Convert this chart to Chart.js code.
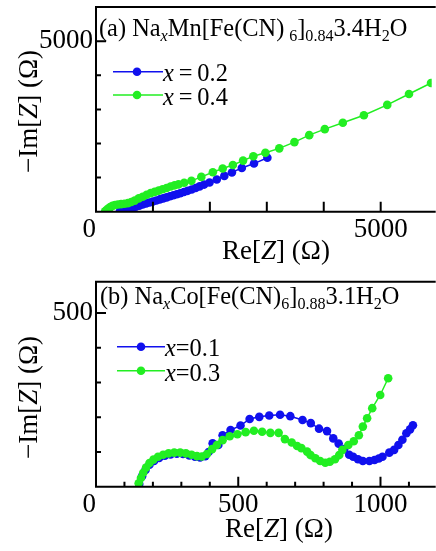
<!DOCTYPE html>
<html>
<head>
<meta charset="utf-8">
<script src="https://cdn.jsdelivr.net/npm/chart.js@4.4.0/dist/chart.umd.min.js"></script>
<style>
  html, body { margin: 0; padding: 0; background: #fff; }
  body { width: 436px; height: 551px; position: relative; overflow: hidden;
         font-family: "Liberation Serif", "Times New Roman", serif; color: #000; }
  canvas { position: absolute; left: 0; }
  .txt { position: absolute; line-height: 1; white-space: nowrap; }
  .ttl, .leg { font-size: 24.4px; }
  .ax { font-size: 27px; width: 200px; text-align: center; }
  .rot { transform: rotate(-90deg); }
  sub { font-size: 0.66em; vertical-align: baseline; position: relative; top: 0.28em; line-height: 0; }
</style>
</head>
<body>
<canvas id="chartA" width="436" height="270" style="top:0"></canvas>
<canvas id="chartB" width="436" height="281" style="top:270px"></canvas>

<div class="txt ttl" style="left:99px; top:16px">(a) Na<sub><i>x</i></sub>Mn[Fe(CN)&#8201;<sub>6</sub>]<sub>0.84</sub>3.4H<sub>2</sub>O</div>
<div class="txt leg" style="left:163px; top:61px"><i>x</i>&#8201;=&#8201;0.2</div>
<div class="txt leg" style="left:163px; top:85px"><i>x</i>&#8201;=&#8201;0.4</div>
<div class="txt ax" style="left:176px; top:237px">Re[<i>Z</i>] (Ω)</div>
<div class="txt ax rot" style="left:-72px; top:98px">−Im[<i>Z</i>] (Ω)</div>

<div class="txt ttl" style="left:100px; top:284px">(b) Na<sub><i>x</i></sub>Co[Fe(CN)<sub>6</sub>]<sub>0.88</sub>3.1H<sub>2</sub>O</div>
<div class="txt leg" style="left:165px; top:336px"><i>x</i>=0.1</div>
<div class="txt leg" style="left:165px; top:361px"><i>x</i>=0.3</div>
<div class="txt ax" style="left:179px; top:515px">Re[<i>Z</i>] (Ω)</div>
<div class="txt ax rot" style="left:-72px; top:384px">−Im[<i>Z</i>] (Ω)</div>

<script>
/* ---- (a) NaxMn[Fe(CN)6]0.84 3.4H2O ---- */
const mnX02 = [420, 470, 520, 580, 640, 700, 760, 820, 880, 940, 1000, 1060, 1120, 1180, 1240, 1300,
               1360, 1420, 1480, 1545, 1610, 1680, 1750, 1820, 1900, 1994, 2121, 2254, 2387, 2561, 2775, 3010];
const mnY02 = [10, 30, 50, 85, 115, 148, 178, 210, 240, 270, 300, 330, 360, 390, 420, 452,
               482, 512, 543, 576, 612, 652, 695, 742, 795, 857, 944, 1050, 1148, 1283, 1411, 1580];
const mnX04 = [160, 185, 215, 250, 290, 335, 385, 440, 500, 560, 620, 680, 751, 820, 890, 960, 1030,
               1100, 1170, 1240, 1310, 1380, 1449, 1549, 1676, 1850, 2052, 2225, 2404, 2583, 2763,
               2975, 3219, 3485, 3745, 4018, 4335, 4705, 5115, 5497, 5884];
const mnY04 = [15, 45, 90, 135, 170, 195, 212, 222, 232, 250, 285, 325, 390, 440, 495, 545, 581,
               619, 657, 695, 737, 773, 800, 847, 905, 1020, 1157, 1265, 1370, 1498, 1624,
               1726, 1857, 2041, 2245, 2420, 2606, 2828, 3131, 3452, 3773];
const mnTicksX = [0, 1000, 2000, 3000, 4000, 5000];
const mnTicksY = [0, 1000, 2000, 3000, 4000, 5000];
const mnTickLabelsX = [0, 5000];
const mnTickLabelsY = [5000];

/* ---- (b) NaxCo[Fe(CN)6]0.88 3.1H2O ---- */
const coX01 = [152, 162, 174, 188, 204, 222, 242, 262, 284, 306, 328, 348, 366, 384, 396, 410, 430,
               445, 473, 508, 540, 574, 609, 647, 683, 726, 755, 784, 812, 834, 853, 872, 890, 904,
               921, 938, 961, 979, 994, 1007, 1031, 1048, 1063, 1077, 1091, 1104, 1114];
const coY01 = [8, 30, 48, 63, 74, 83, 89, 93, 95, 94, 90, 86, 84, 88, 100, 125, 120,
               148, 163, 176, 195, 201, 205, 207, 203, 192, 183, 167, 160, 139, 124, 108, 92, 86,
               79, 74, 74, 77, 81, 86, 98, 106, 120, 135, 154, 165, 177];
const coX03 = [150, 158, 166, 176, 188, 202, 218, 236, 255, 275, 296, 316, 336, 355, 372, 390, 408,
               425, 445, 470, 497, 526, 555, 584, 613, 642, 664, 688, 707, 722, 742, 754, 771, 788,
               806, 822, 840, 855, 866, 887, 906, 924, 938, 953, 971, 999, 1027];
const coY03 = [10, 25, 40, 55, 68, 78, 86, 92, 96, 98, 98, 96, 92, 88, 87, 94, 108,
               120, 134, 145, 151, 157, 161, 158, 155, 155, 137, 127, 117, 111, 101, 91, 82, 74,
               69, 72, 79, 91, 106, 120, 131, 148, 173, 197, 226, 264, 312];
const coTicksX = [0, 100, 200, 300, 400, 500, 600, 700, 800, 900, 1000, 1100];
const coTicksY = [0, 100, 200, 300, 400, 500];
const coTickLabelsX = [0, 500, 1000];
const coTickLabelsY = [500];

const BLUE = "#1010ee";
const GREEN = "#22ee22";
const FONT = "'Liberation Serif', 'Times New Roman', serif";

const pts = (xs, ys) => xs.map((x, i) => ({ x, y: ys[i] }));

// frame (left/top/bottom), inward ticks and legend swatches
const frameTicks = {
  id: "frameTicks",
  afterDraw(chart, args, o) {
    const { ctx, chartArea: a, scales } = chart;
    ctx.save();
    ctx.strokeStyle = "#000";
    ctx.lineWidth = 2;
    ctx.beginPath();
    ctx.moveTo(a.right + 4, a.top);
    ctx.lineTo(a.left, a.top);
    ctx.lineTo(a.left, a.bottom);
    ctx.lineTo(a.right + 4, a.bottom);
    scales.x.ticks.forEach(t => {
      const px = scales.x.getPixelForValue(t.value);
      ctx.moveTo(px, a.bottom);
      ctx.lineTo(px, a.bottom - (t.label ? o.xMajor : o.xMinor));
    });
    scales.y.ticks.forEach(t => {
      const py = scales.y.getPixelForValue(t.value);
      ctx.moveTo(a.left, py);
      ctx.lineTo(a.left + (t.label ? o.yMajor : o.yMinor), py);
    });
    ctx.stroke();

    o.legend.forEach(l => {
      const ds = chart.data.datasets[l.ds];
      ctx.strokeStyle = ds.borderColor;
      ctx.fillStyle = ds.backgroundColor;
      ctx.lineWidth = 1.5;
      ctx.beginPath();
      ctx.moveTo(l.x1, l.y);
      ctx.lineTo(l.x2, l.y);
      ctx.stroke();
      ctx.beginPath();
      ctx.arc(l.dot, l.y, 4.3, 0, Math.PI * 2);
      ctx.fill();
    });
    ctx.restore();
  }
};

function series(xs, ys, color) {
  return {
    data: pts(xs, ys), showLine: true,
    borderColor: color, backgroundColor: color, borderWidth: 1.5,
    pointRadius: 4.3, pointBorderWidth: 0, pointHoverRadius: 4.3
  };
}

function makeChart(id, c) {
  return new Chart(document.getElementById(id), {
    type: "scatter",
    data: { datasets: c.datasets },
    options: {
      responsive: false,
      animation: false,
      layout: { padding: { top: c.top, left: 0, right: 0, bottom: 0 } },
      plugins: {
        legend: { display: false },
        tooltip: { enabled: false },
        frameTicks: c.frame
      },
      scales: {
        x: {
          type: "linear", min: 0, max: c.xMax,
          grid: { display: false, drawTicks: false }, border: { display: false },
          afterBuildTicks: s => { s.ticks = c.xTicks.map(v => ({ value: v })); },
          ticks: {
            autoSkip: false, maxRotation: 0,
            color: "#000", padding: 5, font: { family: FONT, size: 27, lineHeight: 1 },
            callback: v => c.xLabels.includes(v) ? (v === 0 ? "0\u2002" : String(v)) : ""
          },
          afterFit: s => { s.height = c.xHeight; }
        },
        y: {
          type: "linear", min: 0, max: c.yMax,
          grid: { display: false, drawTicks: false }, border: { display: false },
          afterBuildTicks: s => { s.ticks = c.yTicks.map(v => ({ value: v })); },
          ticks: {
            autoSkip: false,
            color: "#000", padding: 3, font: { family: FONT, size: 27, lineHeight: 0.3 },
            callback: v => c.yLabels.includes(v) ? String(v) : ""
          },
          afterFit: s => { s.width = 96; }
        }
      }
    },
    plugins: [frameTicks]
  });
}

makeChart("chartA", {
  datasets: [series(mnX04, mnY04, GREEN), series(mnX02, mnY02, BLUE)],
  top: 5, xMax: 5896, yMax: 6000, xHeight: 58.3,
  xTicks: mnTicksX, yTicks: mnTicksY, xLabels: mnTickLabelsX, yLabels: mnTickLabelsY,
  frame: {
    xMajor: 10, xMinor: 10, yMajor: 10, yMinor: 5,
    legend: [{ ds: 1, x1: 113, x2: 163, dot: 137, y: 71.7 },
             { ds: 0, x1: 113, x2: 163, dot: 137, y: 95 }]
  }
});

makeChart("chartB", {
  datasets: [series(coX03, coY03, GREEN), series(coX01, coY01, BLUE)],
  top: 11.7, xMax: 1180, yMax: 590, xHeight: 64.3,
  xTicks: coTicksX, yTicks: coTicksY, xLabels: coTickLabelsX, yLabels: coTickLabelsY,
  frame: {
    xMajor: 10, xMinor: 5, yMajor: 10, yMinor: 5,
    legend: [{ ds: 1, x1: 117, x2: 165, dot: 141, y: 76.7 },
             { ds: 0, x1: 117, x2: 165, dot: 141, y: 100.7 }]
  }
});
</script>
</body>
</html>
